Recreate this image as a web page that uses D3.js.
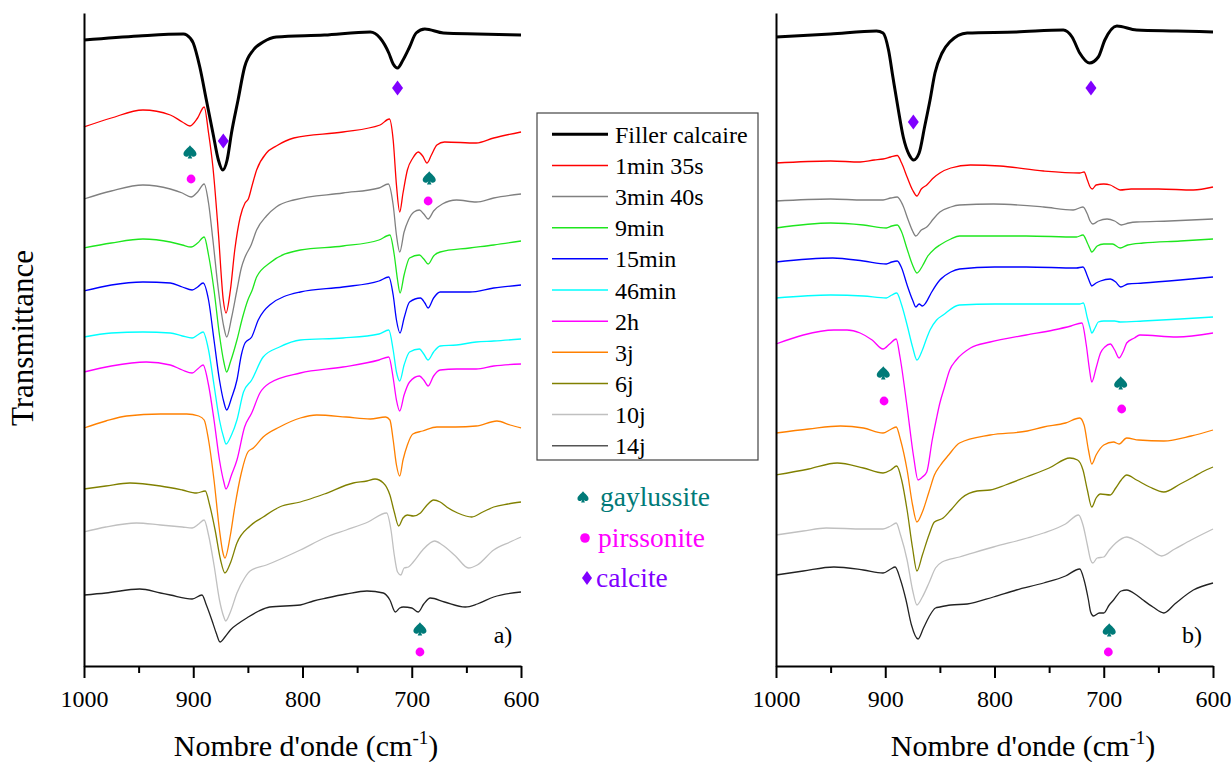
<!DOCTYPE html>
<html><head><meta charset="utf-8">
<script src="https://cdn.jsdelivr.net/npm/d3@7"></script>
<style>
@font-face{font-family:"ChartSerif";src:local("Liberation Serif"),local("LiberationSerif"),local("LiberationSerif-Regular"),local("Times New Roman"),local("DejaVu Serif");}
body{margin:0;background:#fff}
svg{display:block}
</style>
</head><body>
<svg id="chart" width="1231" height="762"></svg>
<script>
// ---------- categories / styles ----------
const seriesNames = ["Filler calcaire","1min 35s","3min 40s","9min","15min","46min","2h","3j","6j","10j","14j"];
const seriesColors = ["#000000","#ff0000","#808080","#1ee61e","#0000ff","#00ffff","#ff00ff","#ff8000","#808000","#c0c0c0","#222222"];
const xTickLabels = [1000, 900, 800, 700, 600];
const xMinorTicks = [950, 850, 750, 650];
const phaseNames = ["gaylussite","pirssonite","calcite"];
const phaseColors = ["#007a78","#ff00ff","#8000ff"];
const SERIF = '"Liberation Serif", ChartSerif, serif';

// ---------- spectra, panel a) : [wavenumber cm-1, offset value (a.u., read top-down)] ----------
const L_filler = [[1000,40],[950,36],[909,34],[906,35],[900,43],[894,67],[888,100],[882,133],[877,160],[873,170],[869,160],[865,133],[859,100],[853,67],[845,50],[836,42],[824,37],[780,35],[738,32],[729,38],[721,53],[717,64],[713,68],[708,60],[702,47],[696,33],[688,29],[671,33],[640,34],[600,35]];
const L_1min35 = [[1000,127],[975,118],[946,110],[921,115],[910,122],[903,126],[896,118],[890,107],[886,133],[882,167],[877,233],[872.5,300],[870,313],[866,290],[862,250],[857,217],[852.6,203],[849.6,199],[846,185],[842,170],[833,153],[824,146],[808,138],[763,132],[729,125],[720.5,119],[717,140],[714,185],[711,212],[708,193],[704,170],[699,158],[694,152],[690,156],[686,163],[682,155],[677,145],[670,142],[641,143],[625,138],[600,132]];
const L_3min40 = [[1000,199],[975,191],[946,185],[921,189],[910,193],[902,197],[896,192],[890,184],[886,203],[882,240],[877,290],[872,327],[869.4,337],[865,318],[860,290],[856,268],[852.6,257],[847,245],[842,230],[833,216],[824,207],[808,200],[763,193],[730,188],[721.5,184],[717,205],[714,235],[711,252],[707,232],[703,220],[698,212],[693,210],[689,214],[685,219],[680,211],[672,204],[659,200],[641,202],[625,198],[600,194]];
const L_9min = [[1000,248],[975,243],[946,239],[921,242],[910,245],[902,247],[896,243],[890,237],[886,255],[881,290],[876,335],[872,362],[869.4,372],[866,362],[860,340],[855,318],[850,300],[846,290],[842,277],[830,263],[802,250],[763,246],[730,240],[720,235],[716,255],[713,280],[710.7,293],[707,275],[702,258],[693,255],[689,259],[685,264],[680,256],[674,252],[647,248],[625,245],[600,241]];
const L_15min = [[1000,291],[975,285],[946,282],[921,283],[910,287],[901,290],[896,287],[891,283],[886,300],[881,340],[876,380],[872,402],[869.4,410],[865,398],[860,380],[856,355],[852.6,343],[846.5,337],[840.5,320],[830,305],[802,292],[763,287],[730,281],[721,277],[717,295],[714,320],[710.7,333],[707,318],[702,302],[692,298],[688,303],[685,308],[680,298],[674,292],[647,292],[625,288],[600,285]];
const L_46min = [[1000,337],[975,333],[946,332],[921,333],[910,336],[901,338],[896,335],[891,332],[886,350],[881,385],[876,420],[872,438],[870,444],[865,435],[860,420],[854,392],[846.5,380],[836,357],[821,347],[802,340],[763,338],[730,334],[721,330],[717,350],[714,372],[711,381],[707,365],[702,352],[693,349],[689,354],[685,360],[680,352],[674,346],[659,345],[641,342],[625,341],[600,339]];
const L_2h = [[1000,372],[975,366],[943,362],[921,365],[910,370],[901,373],[896,369],[891,365],[886,385],[881,420],[876,460],[872,482],[870,489],[865,475],[860,460],[853,427],[846.5,413],[839,393],[830,383],[802,373],[763,367],[730,360],[721,357],[717,378],[714,400],[711,411],[707,395],[702,382],[693,376],[689,380],[685,386],[680,376],[674,370],[659,369],[641,369],[625,366],[600,364]];
const L_3j = [[1000,428],[980,421],[961,416],[930,414],[906,414],[895,416],[890,420],[886,440],[881,480],[876,530],[873,552],[871,558],[866,535],[862,507],[856,473],[850,452],[845,448],[836,437],[821,427],[802,418],[787,415],[760,417],[738,419],[724,417],[720,420],[717,440],[714,465],[711,476],[708,460],[704,445],[699,434],[690,431],[677,427],[660,427],[641,426],[622,421],[610,425],[600,428]];
const L_6j = [[1000,489],[980,486],[958,483],[930,486],[910,490],[897,493],[889,491],[885,505],[880,530],[875,560],[871,573],[866,563],[860,543],[848,526],[836,517],[821,507],[802,502],[796,500],[780,494],[753.5,483],[741,481],[733.6,479],[726,483],[720,495],[716,512],[712,526],[708,518],[704,515],[698.6,516],[692,513],[686,505],[680,500],[674,502],[668,507],[658,513],[645,517],[635,512],[625,507],[612,504],[600,502]];
const L_10j = [[1000,532],[980,527],[952,523],[930,525],[910,527],[901,528],[895,524],[890,520],[886,535],[881,565],[876,600],[872,617],[870.3,621],[866,612],[860,593],[853,578],[848,571],[833,565],[802,550],[778,537],[760,530],[740,522],[723,513],[719,530],[716,555],[713,572],[710,575],[707,568],[703,567],[698.6,562],[690,550],[679,541],[672,545],[660,556],[648,568],[640,565],[625,550],[610,542],[600,537]];
const L_14j = [[1000,595],[980,593],[949,589],[930,593],[921,595],[901,599],[892,595],[888,605],[883,620],[879,633],[875.5,642],[871,637],[866,630],[858,623],[851,618],[840,611],[830,607],[802,605],[790,601],[778,598],[760,594],[741,591],[726,593],[720,600],[715,612],[711,608],[707.7,607],[700,608],[694,612],[689,604],[683,598],[670,602],[651,607],[640,604],[625,597],[600,592]];

// ---------- spectra, panel b) ----------
const R_filler = [[1000,37],[950,34],[908,31],[902,33],[897,50],[893,77],[888,110],[883.5,137],[878,155],[874,160],[869,153],[864,127],[859,100],[854.5,73],[848,53],[841,42],[825,33],[780,32],[737,30],[729,37],[722,53],[713,63],[705,57],[699,40],[688,26],[670,30],[633,31],[600,32]];
const R_1min35 = [[1000,163],[950,161],[923,162],[910,160],[902,159],[895,157],[889,155.5],[885,163],[880,177],[875,190],[871,196],[867,189],[862,185],[856,178],[850,173],[840,168],[822,165],[795,166],[755,171],[722,173],[718,172],[715,180],[712.5,187],[710.5,189],[707,185],[700,184],[694,185],[689,188],[685,190],[675,189],[650,189],[618,190],[600,187]];
const R_3min40 = [[1000,201],[950,199],[920,200],[902,200],[895,198],[889,197],[884,205],[879,220],[875,231],[872,236],[867,230],[862,227],[856,219],[850,212],[840,207],[832,205],[801,204],[755,207],[728,210],[719,207],[715,214],[712.5,221],[710,224],[705,221],[697,219],[690,221],[684,225],[677,223],[670,222],[640,221],[600,219]];
const R_9min = [[1000,228],[950,223],[920,225],[899,228],[894,226],[889,225],[885,232],[880,249],[875,265],[871,273],[866,266],[861,256],[855,249],[850,245],[840,239],[832,236],[800,236],[771,236],[725,237],[719,235],[715,243],[712.5,249],[711,252],[706,246],[700,244],[692,244],[685,248],[678,245],[664,243],[630,241],[600,239]];
const R_15min = [[1000,262],[948,258],[920,261],[899,264],[894,262],[889,261],[885,268],[880,285],[875,300],[872,307],[869,304],[866,306],[863,303],[858,293],[850,280],[840,272],[832,269],[800,267],[771,267],[725,268],[719,267],[715,276],[712.5,283],[711,286],[707,283],[703,281],[694,279],[689,282],[684.5,287],[678,284],[664,283],[630,280],[600,277]];
const R_46min = [[1000,298],[950,295],[920,296],[899,298],[894,295],[889.5,293],[885,305],[880,325],[875,347],[871,360],[866,350],[862,338],[859,330],[853,320],[847,315],[832,305],[800,304],[771,304],[722,304],[718.7,303],[715,318],[712.5,328],[711,333],[708,328],[705,322],[700,321],[690,321],[685,322],[664,321],[630,319],[600,317]];
const R_2h = [[1000,344],[975,335],[947,330],[935,330],[923,333],[912,340],[902,349],[896,344],[890,339],[886.5,357],[880,407],[874,457],[870,480],[866,477],[862,472],[857,440],[853,418],[850,403],[846,388],[841,370],[835,360],[822,348],[804,342],[771,335],[746,330],[730,326],[720,323],[716,345],[713,370],[711,382],[707,368],[703,353],[699,347],[694,344],[690,350],[686,358],[682,351],[679,343],[672,338],[667,335],[633,337],[600,333]];
const R_3j = [[1000,433],[970,429],[941,426],[920,428],[902,433],[896,430],[890,427],[886,440],[880,470],[875,505],[871,522],[866,512],[860,492],[855,475],[850,466],[842,455],[832,443],[804,435],[770,431],[755,427],[735,423],[722,418],[718,425],[714,450],[711,464],[707,455],[700,445],[691,442],[686,444],[679,438],[668,440],[645,441],[620,436],[600,430]];
const R_6j = [[1000,475],[970,469],[944,463],[920,468],[902,473],[895,470],[889.5,466],[885,480],[880,510],[875,548],[871,571],[866,555],[860,535],[855,522],[847,518],[840,510],[830,498],[816,491],[804,490],[790,485],[771,477],[750,468],[731,458],[724,460],[719,470],[715,490],[711,507],[707,498],[703,494],[694,495],[689,488],[684,480],[679,475],[670,480],[658,487],[645,492],[630,484],[618,477],[610,472],[600,467]];
const R_10j = [[1000,535],[975,531],[954,528],[920,529],[902,529],[895,526],[890,523],[886,535],[880,560],[875,590],[871,605],[866,597],[860,583],[854,568],[848,562],[832,557],[801,547],[770,538],[755,533],[735,524],[723,515],[719,525],[715,545],[712,560],[710,563],[706,558],[700,557],[695,550],[689,543],[679,537],[670,541],[658,549],[647,556],[635,549],[620,540],[600,529]];
const R_14j = [[1000,575],[975,571],[947,567],[920,570],[902,573],[895,569],[891,567],[886,580],[881,600],[876,625],[870,639],[865,628],[860,617],[854,608],[850,607],[840,605],[825,604],[801,597],[780,590],[755,583],[735,576],[722,569],[718,580],[714,600],[712,612],[709.5,616],[704,613],[700,613],[695,605],[691,600],[684,591],[679,590],[670,595],[664,600],[655,607],[645,613],[635,604],[618,590],[600,583]];

// ---------- phase markers [wavenumber, offset value] ----------
const L_gaylussite = [[903,152],[684,178],[692.5,629]];
const L_pirssonite = [[902,179],[685,201],[692.5,652]];
const L_calcite = [[872.5,141],[713,88]];
const R_gaylussite = [[901.8,373],[684.5,383],[695,630]];
const R_pirssonite = [[901.1,401],[683.6,409],[695.8,652]];
const R_calcite = [[874.3,122],[711.7,88]];

const panels = [
  {x0:84, x1:521, series:[L_filler,L_1min35,L_3min40,L_9min,L_15min,L_46min,L_2h,L_3j,L_6j,L_10j,L_14j],
   gay:L_gaylussite, pir:L_pirssonite, cal:L_calcite, tag:"a)", tagX:503, titleX:306},
  {x0:776, x1:1213, series:[R_filler,R_1min35,R_3min40,R_9min,R_15min,R_46min,R_2h,R_3j,R_6j,R_10j,R_14j],
   gay:R_gaylussite, pir:R_pirssonite, cal:R_calcite, tag:"b)", tagX:1192, titleX:1023}
];

const svg = d3.select("#chart");
const TOP = 13, BOTTOM = 666;
const y = d3.scaleLinear().domain([TOP, BOTTOM]).range([TOP, BOTTOM]);

function diamond(cx, cy, hw, hh){
  const p = d3.path();
  p.moveTo(cx, cy-hh); p.lineTo(cx+hw, cy); p.lineTo(cx, cy+hh); p.lineTo(cx-hw, cy); p.closePath();
  return p.toString();
}
function spade(cx, cy, s){
  const p = d3.path();
  p.moveTo(cx, cy - s*1.05);
  p.bezierCurveTo(cx + s*0.35, cy - s*0.55, cx + s*1.05, cy - s*0.2, cx + s*1.0, cy + s*0.35);
  p.bezierCurveTo(cx + s*0.95, cy + s*0.8, cx + s*0.3, cy + s*0.85, cx + s*0.12, cy + s*0.45);
  p.lineTo(cx + s*0.35, cy + s*1.0);
  p.lineTo(cx - s*0.35, cy + s*1.0);
  p.lineTo(cx - s*0.12, cy + s*0.45);
  p.bezierCurveTo(cx - s*0.3, cy + s*0.85, cx - s*0.95, cy + s*0.8, cx - s*1.0, cy + s*0.35);
  p.bezierCurveTo(cx - s*1.05, cy - s*0.2, cx - s*0.35, cy - s*0.55, cx, cy - s*1.05);
  p.closePath();
  return p.toString();
}
function txt(sel, size){
  return sel.style("font-family", SERIF).style("font-size", size + "px");
}

panels.forEach(p => {
  const x = d3.scaleLinear().domain([1000, 600]).range([p.x0, p.x1]);
  const line = d3.line().x(d => x(d[0])).y(d => y(d[1])).curve(d3.curveMonotoneX);
  const g = svg.append("g");
  const order = [1,2,3,4,5,6,7,8,9,10,0];
  order.forEach(i => {
    g.append("path").attr("d", line(p.series[i])).attr("fill","none")
      .attr("stroke", seriesColors[i]).attr("stroke-width", i === 0 ? 3 : 1.3)
      .attr("stroke-linejoin","round");
  });
  p.gay.forEach(d => {
    g.append("path").attr("d", spade(x(d[0]), y(d[1]), 6.5)).attr("fill", phaseColors[0]);
  });
  p.pir.forEach(d => {
    g.append("circle").attr("cx", x(d[0])).attr("cy", y(d[1])).attr("r", 4.4).attr("fill", phaseColors[1]);
  });
  p.cal.forEach(d => {
    g.append("path").attr("d", diamond(x(d[0]), y(d[1]), 5.5, 7.5)).attr("fill", phaseColors[2]);
  });
  const yAx = g.append("g").attr("transform", `translate(${p.x0},0)`)
    .call(d3.axisLeft(y).tickValues([]).tickSizeOuter(0));
  yAx.select(".domain").attr("stroke-width", 2).attr("stroke","#000");
  const xAx = g.append("g").attr("transform", `translate(0,${BOTTOM})`)
    .call(d3.axisBottom(x).tickValues(xTickLabels).tickSize(12).tickSizeOuter(0).tickPadding(12).tickFormat(d3.format("d")));
  xAx.attr("font-family", null).attr("font-size", null);
  xAx.select(".domain").attr("stroke-width", 2).attr("stroke","#000");
  xAx.selectAll(".tick line").attr("stroke-width", 2).attr("stroke","#000");
  txt(xAx.selectAll(".tick text"), 24).attr("fill","#000");
  const xMin = g.append("g").attr("transform", `translate(0,${BOTTOM})`)
    .call(d3.axisBottom(x).tickValues(xMinorTicks).tickSize(7).tickSizeOuter(0).tickFormat(""));
  xMin.select(".domain").remove();
  xMin.selectAll(".tick line").attr("stroke-width", 2).attr("stroke","#000");
  const t = txt(g.append("text").attr("x", p.titleX).attr("y", 756).attr("text-anchor","middle"), 30);
  t.append("tspan").text("Nombre d'onde (cm");
  t.append("tspan").attr("dy", -12).style("font-size","19px").text("-1");
  t.append("tspan").attr("dy", 12).text(")");
  txt(g.append("text").attr("x", p.tagX).attr("y", 643).attr("text-anchor","middle"), 24).text(p.tag);
});

txt(svg.append("text").attr("transform","translate(33,338) rotate(-90)").attr("text-anchor","middle"), 31)
  .text("Transmittance");

const lg = svg.append("g");
lg.append("rect").attr("x",537).attr("y",113).attr("width",221).attr("height",347)
  .attr("fill","#fff").attr("stroke","#444").attr("stroke-width",1.2);
const rowY = d3.scaleLinear().domain([0, seriesNames.length-1]).range([134.3, 445.7]);
seriesNames.forEach((n, i) => {
  lg.append("line").attr("x1",552).attr("x2",608).attr("y1",rowY(i)).attr("y2",rowY(i))
    .attr("stroke", i === 10 ? "#555" : seriesColors[i]).attr("stroke-width", i === 0 ? 3 : 1.5);
  txt(lg.append("text").attr("x",615).attr("y",rowY(i)+8.5), 24).text(n);
});

const phaseY = [497, 538, 578];
lg.append("path").attr("d", spade(583, phaseY[0], 5.5)).attr("fill", phaseColors[0]);
lg.append("circle").attr("cx",585).attr("cy",phaseY[1]).attr("r",4.8).attr("fill",phaseColors[1]);
lg.append("path").attr("d", diamond(587, phaseY[2], 5, 7)).attr("fill", phaseColors[2]);
const phaseX = [600, 598, 596];
phaseNames.forEach((n, i) => {
  txt(lg.append("text").attr("x", phaseX[i]).attr("y", phaseY[i]+9), 27.5)
    .attr("fill", phaseColors[i]).text(n);
});
</script>
</body></html>
